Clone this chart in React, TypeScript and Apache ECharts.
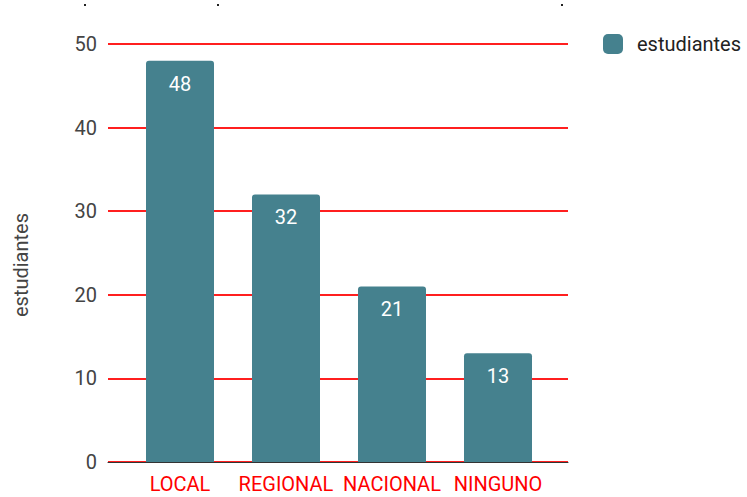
import React, { useEffect, useRef } from "react";
import * as echarts from "echarts";

const categories: string[] = ["LOCAL", "REGIONAL", "NACIONAL", "NINGUNO"];
const values: number[] = [48, 32, 21, 13];
const seriesName = "estudiantes";
const yAxisTitle = "estudiantes";
const yMin = 0;
const yMax = 50;
const yInterval = 10;

export default function App() {
  const ref = useRef<HTMLDivElement>(null);
  useEffect(() => {
    if (!ref.current) return;
    const chart = echarts.init(ref.current, undefined, { renderer: "svg" });
    const font = "Roboto, 'Noto Sans', sans-serif";
    chart.setOption({
      animation: false,
      textStyle: { fontFamily: font },
      grid: [
        { left: 108, right: 179, top: 44, bottom: 35 },
        { left: 127, right: 196, top: 44, bottom: 35 },
      ],
      legend: {
        show: true,
        left: 598,
        top: 29,
        itemWidth: 20,
        itemHeight: 20,
        icon: "roundRect",
        textStyle: { fontSize: 20, color: "#222", fontFamily: font, padding: [0, 0, 0, 9] },
        data: [seriesName],
      },
      xAxis: [
        {
          type: "value",
          gridIndex: 0,
          min: 0,
          max: 1,
          axisLine: { show: true, lineStyle: { color: "#333", width: 1 } },
          axisTick: { show: false },
          axisLabel: { show: false },
          splitLine: { show: false },
        },
        {
          type: "category",
          gridIndex: 1,
          data: categories,
          axisLine: { show: false },
          axisTick: { show: false },
          axisLabel: {
            interval: 0,
            hideOverlap: false,
            color: "#ff0000",
            fontSize: 20,
            lineHeight: 18,
            margin: 13,
            fontFamily: font,
          },
        },
      ],
      yAxis: [
        {
          type: "value",
          gridIndex: 0,
          min: yMin,
          max: yMax,
          interval: yInterval,
          axisLine: { show: false },
          axisTick: { show: false },
          axisLabel: { color: "#444", fontSize: 20, margin: 11, fontFamily: font },
          splitLine: { show: true, lineStyle: { color: "#ff1f1f", width: 2 } },
        },
        {
          type: "value",
          gridIndex: 1,
          min: yMin,
          max: yMax,
          interval: yInterval,
          show: false,
          splitLine: { show: false },
        },
      ],
      series: [
        {
          name: seriesName,
          type: "bar",
          xAxisIndex: 1,
          yAxisIndex: 1,
          data: values,
          barWidth: 68,
          itemStyle: { color: "#45818e", borderRadius: [3, 3, 0, 0] },
          label: {
            show: true,
            position: "insideTop",
            distance: 13,
            color: "#fff",
            fontSize: 20,
            fontFamily: font,
          },
        },
      ],
      graphic: [
        {
          type: "text",
          x: 21,
          y: 265,
          rotation: Math.PI / 2,
          style: {
            text: yAxisTitle,
            fill: "#444",
            font: "20px Roboto, 'Noto Sans', sans-serif",
            textAlign: "center",
            textVerticalAlign: "middle",
          },
        },
        { type: "rect", shape: { x: 84, y: 4, width: 2, height: 2 }, style: { fill: "#222" } },
        { type: "rect", shape: { x: 217, y: 4, width: 2, height: 2 }, style: { fill: "#222" } },
        { type: "rect", shape: { x: 561, y: 4, width: 2, height: 2 }, style: { fill: "#222" } },
      ],
    });
    return () => chart.dispose();
  }, []);
  return (
    <div
      ref={ref}
      style={{ position: "fixed", left: 0, top: 0, width: 747, height: 497, background: "#fff" }}
    />
  );
}
